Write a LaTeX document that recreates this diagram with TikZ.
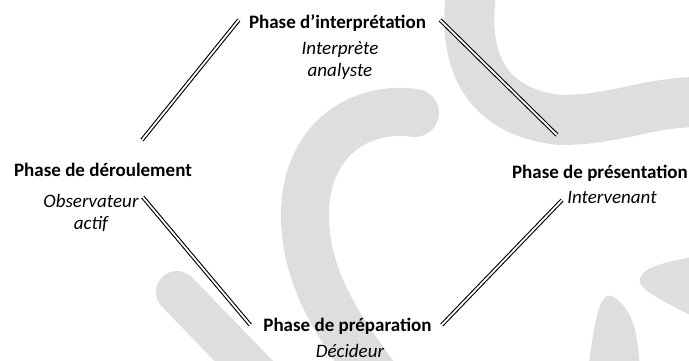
\documentclass[tikz,border=0pt]{standalone}
\usepackage{fontspec}
\setmainfont{Carlito}
\definecolor{filigrane}{RGB}{222,222,222}

\begin{document}
\begin{tikzpicture}[x=1pt,y=1pt,
		phase/.style={font=\fontsize{19}{22}\selectfont\bfseries, inner sep=0pt, anchor=base},
		role/.style={font=\fontsize{19}{22}\selectfont\itshape, inner sep=0pt, anchor=base, align=center},
		liaison/.style={draw, double, double distance=1.8pt, line width=1.1pt},
		fond/.style={draw=filigrane, line width=48pt, line cap=round}]
				\useasboundingbox (0,0) rectangle (689,361);
				% filigrane en fond
				\begin{scope}
					\clip (0,0) rectangle (689,361);
					\draw[fond, line width=50pt] (475,391) .. controls (460,321) and (470,251) .. (560,241) .. controls (620,241) and (650,261) .. (710,259); % bande du haut
					\draw[fond] (415,248) .. controls (360,256) and (305,221) .. (305,146) .. controls (305,81) and (340,31) .. (385,-29); % arc du milieu
					\draw[fond, line width=42pt] (177,69) -- (267,-24); % bande de gauche
					\fill[filigrane] (700,106) .. controls (670,99) and (645,96) .. (640,83) .. controls (636,73) and (660,61) .. (700,41) -- cycle; % bout droit
					\fill[filigrane] (588,-9) .. controls (592,21) and (596,51) .. (603,61) .. controls (608,69) and (615,66) .. (625,53) .. controls (635,41) and (638,21) .. (640,-9) -- cycle; % bout bas
				\end{scope}

				\node[phase] (interpretation) at (337.5,332.7) {Phase d’interprétation};
				\node[role] (interprete) at (340,284) {Interprète\\analyste};
				\node[phase] (deroulement) at (103,184.3) {Phase de déroulement};
				\node[role] (observateur) at (91,131) {Observateur\\actif};
				\node[phase] (presentation) at (600,182.7) {Phase de présentation};
				\node[role] (intervenant) at (612,157.7) {Intervenant};
				\node[phase] (preparation) at (347.5,29.3) {Phase de préparation};
				\node[role] (decideur) at (350,3.5) {Décideur};

				\draw[liaison] ([shift={(39,36.7)}]deroulement.base) -- ([shift={(-10,8.3)}]interpretation.base west); % déroulement - interprétation
				\draw[liaison] ([shift={(14,8.3)}]interpretation.base east) -- ([shift={(-43,43.3)}]presentation.base); % interprétation - présentation
				\draw[liaison] ([shift={(4,33)}]observateur.base east) -- ([shift={(-13,6.7)}]preparation.base west); % déroulement - préparation
				\draw[liaison] ([shift={(10,6.7)}]preparation.base east) -- ([shift={(-5,3.3)}]intervenant.base west); % préparation - présentation
			\end{tikzpicture}
\end{document}
